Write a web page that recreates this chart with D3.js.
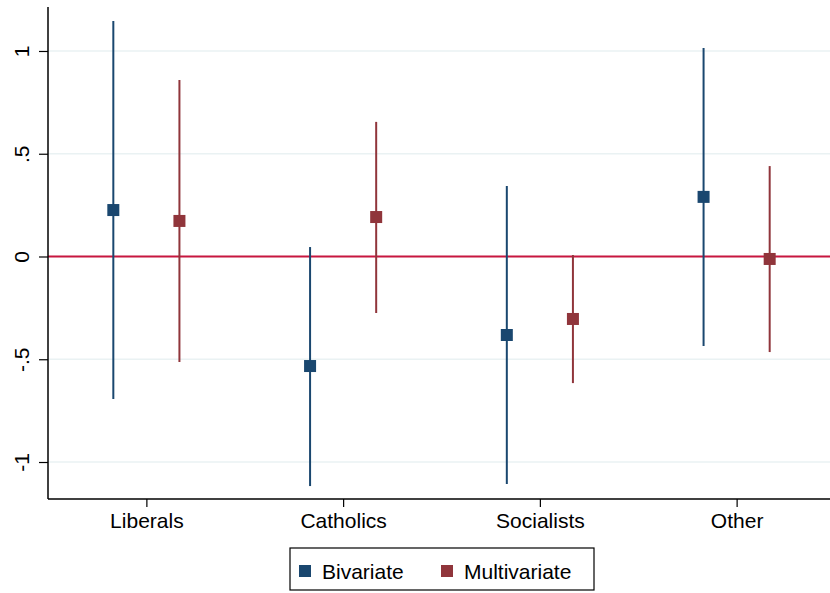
<!DOCTYPE html>
<html>
<head>
<meta charset="utf-8">
<script src="https://cdn.jsdelivr.net/npm/d3@7"></script>
<style>
  body { margin: 0; background: #fff; }
  svg { display: block; font-family: "Liberation Sans", Arial, sans-serif; }
</style>
</head>
<body>
<svg id="chart" width="830" height="593"></svg>
<script>
// data
const categories = ['Liberals', 'Catholics', 'Socialists', 'Other'];
const seriesNames = ['Bivariate', 'Multivariate'];
const bivEst = [0.226, -0.533, -0.382, 0.29];
const bivLo = [-0.693, -1.117, -1.107, -0.436];
const bivHi = [1.146, 0.046, 0.343, 1.015];
const mulEst = [0.173, 0.192, -0.304, -0.012];
const mulLo = [-0.513, -0.275, -0.616, -0.465];
const mulHi = [0.859, 0.655, 0.007, 0.44];
const yTicks = [-1, -0.5, 0, 0.5, 1];
const yTickLabels = ['-1', '-.5', '0', '.5', '1'];

const colors = ['#1a476f', '#90353b'];
const plotL = 48, plotR = 830, plotT = 7, plotB = 499;

const svg = d3.select('#chart');

const x = d3.scaleLinear().domain([0.5, 4.5]).range([48, 835]);
const y = d3.scaleLinear().domain([-1.18, 1.214]).range([plotB, plotT]);

// gridlines
svg.append('g').selectAll('line').data(yTicks).join('line')
  .attr('x1', plotL).attr('x2', plotR)
  .attr('y1', d => y(d)).attr('y2', d => y(d))
  .attr('stroke', '#eaf2f3').attr('stroke-width', 1.5);

// zero line
svg.append('line')
  .attr('x1', plotL).attr('x2', plotR)
  .attr('y1', y(0)).attr('y2', y(0))
  .attr('stroke', '#c8163f').attr('stroke-width', 1.8);

const series = [
  {est: bivEst, lo: bivLo, hi: bivHi, off: -0.168},
  {est: mulEst, lo: mulLo, hi: mulHi, off: 0.168}
];

series.forEach((s, si) => {
  const g = svg.append('g');
  const rows = categories.map((c, i) => ({i, est: s.est[i], lo: s.lo[i], hi: s.hi[i]}));
  g.selectAll('line').data(rows).join('line')
    .attr('x1', d => x(d.i + 1 + s.off)).attr('x2', d => x(d.i + 1 + s.off))
    .attr('y1', d => y(d.lo)).attr('y2', d => y(d.hi))
    .attr('stroke', colors[si]).attr('stroke-width', 2);
  g.selectAll('rect').data(rows).join('rect')
    .attr('x', d => x(d.i + 1 + s.off) - 6).attr('y', d => y(d.est) - 6)
    .attr('width', 12).attr('height', 12)
    .attr('fill', colors[si]);
});

// y axis
const yAxis = d3.axisLeft(y).tickValues(yTicks).tickSize(9).tickFormat((d, i) => yTickLabels[i]);
const ya = svg.append('g').attr('transform', `translate(${plotL},0)`).call(yAxis);
ya.select('.domain').attr('d', `M0,${plotT}V${plotB}`).attr('stroke', '#000').attr('stroke-width', 1.5);
ya.selectAll('.tick line').attr('stroke', '#000').attr('stroke-width', 1.2);
ya.selectAll('.tick text')
  .attr('font-size', 21).attr('fill', '#000')
  .attr('x', 0).attr('y', 0).attr('dy', 0)
  .attr('text-anchor', 'middle')
  .attr('transform', 'translate(-19,0) rotate(-90)');

// x axis
const xAxis = d3.axisBottom(x).tickValues([1, 2, 3, 4]).tickSize(8).tickFormat((d, i) => categories[i]);
const xa = svg.append('g').attr('transform', `translate(0,${plotB})`).call(xAxis);
xa.select('.domain').attr('d', `M${plotL},0H${plotR}`).attr('stroke', '#000').attr('stroke-width', 1.5);
xa.selectAll('.tick line').attr('stroke', '#000').attr('stroke-width', 1.2);
xa.selectAll('.tick text').attr('font-size', 21).attr('fill', '#000').attr('y', 14).attr('dy', '0.71em');

// legend
const lg = svg.append('g');
lg.append('rect').attr('x', 290).attr('y', 548).attr('width', 304).attr('height', 42)
  .attr('fill', '#fff').attr('stroke', '#000').attr('stroke-width', 1.2);
const legX = [299, 441];
seriesNames.forEach((n, i) => {
  lg.append('rect').attr('x', legX[i]).attr('y', 565).attr('width', 12).attr('height', 12).attr('fill', colors[i]);
  lg.append('text').attr('x', legX[i] + 23).attr('y', 579).attr('font-size', 21).attr('fill', '#000').text(n);
});
</script>
</body>
</html>
